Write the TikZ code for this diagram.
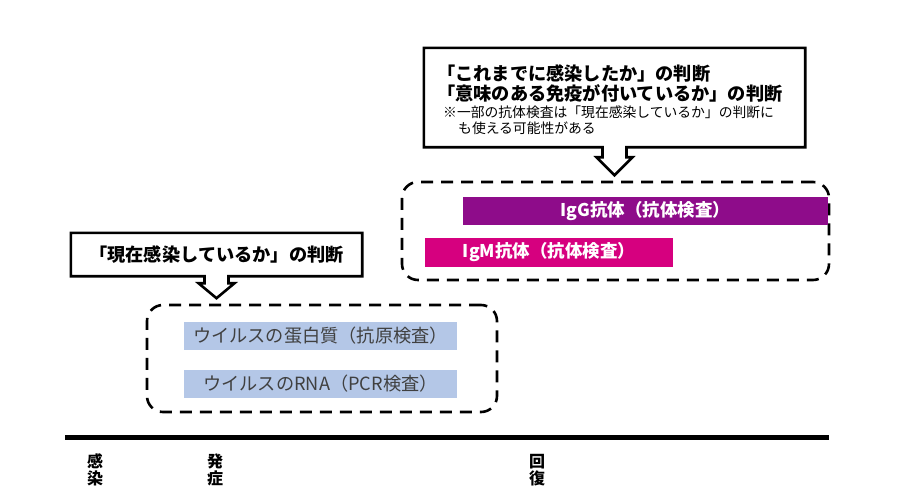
\documentclass[tikz,border=0pt]{standalone}
\usepackage{fontspec}
\setmainfont{Noto Sans CJK JP}
\usepackage{tikz}
\usetikzlibrary{positioning}
\definecolor{iggpurple}{RGB}{142,12,138}
\definecolor{igmmagenta}{RGB}{214,0,127}
\definecolor{antigenblue}{RGB}{180,199,231}
\definecolor{bartext}{RGB}{64,64,64}

\begin{document}
\begin{tikzpicture}[x=1pt,y=-1pt,
  callout/.style={line width=2.6pt,line join=miter},
  callout box/.style={inner sep=0pt},
  main text/.style={anchor=west,inner sep=0pt,font=\fontsize{18.2}{20}\selectfont\bfseries},
  note text/.style={anchor=west,inner sep=0pt,font=\fontsize{13.8}{15}\selectfont},
  group box/.style={draw,line width=2.6pt,dash pattern=on 12pt off 8pt,rounded corners=16pt,inner sep=0pt},
  antibody bar/.style={inner sep=0pt,minimum height=28pt,text=white,font=\fontsize{17.5}{18}\selectfont\bfseries},
  antigen bar/.style={fill=antigenblue,inner sep=0pt,minimum width=273pt,minimum height=28pt,text=bartext,font=\fontsize{18.2}{18}\selectfont},
  axis label/.style={align=center,inner sep=0pt,font=\fontsize{16}{16.5}\selectfont\bfseries}]
\useasboundingbox (0,0) rectangle (900,496);

% upper callout: past infection / immunity
\node[callout box,minimum width=381pt,minimum height=99pt] (pastq) at (614.5,97.5) {};
\draw[callout] (pastq.north west) -- (pastq.north east) -- (pastq.south east)
  -- ([xshift=12pt]pastq.south) -- ([xshift=12pt,yshift=-10pt]pastq.south)
  -- ([xshift=18pt,yshift=-10pt]pastq.south) -- ([yshift=-28pt]pastq.south)
  -- ([xshift=-18pt,yshift=-10pt]pastq.south) -- ([xshift=-12pt,yshift=-10pt]pastq.south)
  -- ([xshift=-12pt]pastq.south) -- (pastq.south west) -- cycle;
\node[main text] (pastline) at (437,73) {「これまでに感染したか」の判断};
\node[main text] (immuneline) at (437,93) {「意味のある免疫が付いているか」の判断};
\node[note text] (noteline) at (443,112) {※一部の抗体検査は「現在感染しているか」の判断に};
\node[note text] (notecont) at (458,128) {も使える可能性がある};

% antibody tests
\node[group box,minimum width=427pt,minimum height=98pt] (antibody) at (615.5,231) {};
\node[antibody bar,fill=iggpurple,minimum width=365pt] (igg) at (645.5,211) {IgG抗体（抗体検査）};
\node[antibody bar,fill=igmmagenta,minimum width=248pt,minimum height=29pt] (igm) at (549,252.5) {IgM抗体（抗体検査）};

% left callout: current infection
\node[callout box,minimum width=291pt,minimum height=43pt,font=\fontsize{18.2}{20}\selectfont\bfseries] (nowq) at (216.5,254.5) {「現在感染しているか」の判断};
\draw[callout] (nowq.north west) -- (nowq.north east) -- (nowq.south east)
  -- ([xshift=12pt]nowq.south) -- ([xshift=12pt,yshift=-7pt]nowq.south)
  -- ([xshift=18pt,yshift=-7pt]nowq.south) -- ([yshift=-22pt]nowq.south)
  -- ([xshift=-18pt,yshift=-7pt]nowq.south) -- ([xshift=-12pt,yshift=-7pt]nowq.south)
  -- ([xshift=-12pt]nowq.south) -- (nowq.south west) -- cycle;

% antigen / PCR tests
\node[group box,minimum width=350pt,minimum height=107pt] (antigen) at (322,358.5) {};
\node[antigen bar] (protein) at (320.5,336) {ウイルスの蛋白質（抗原検査）};
\node[antigen bar] (rna) at (320.5,384) {ウイルスのRNA（PCR検査）};

% time axis
\coordinate (axisstart) at (65,437);
\coordinate (axisend) at (829,437);
\draw[line width=5pt] (axisstart) -- (axisend);
\node[axis label] (infect) at (95,470) {感\\染};
\node[axis label] (onset) at (215,470) {発\\症};
\node[axis label] (recover) at (537,470) {回\\復};
\end{tikzpicture}
\end{document}
